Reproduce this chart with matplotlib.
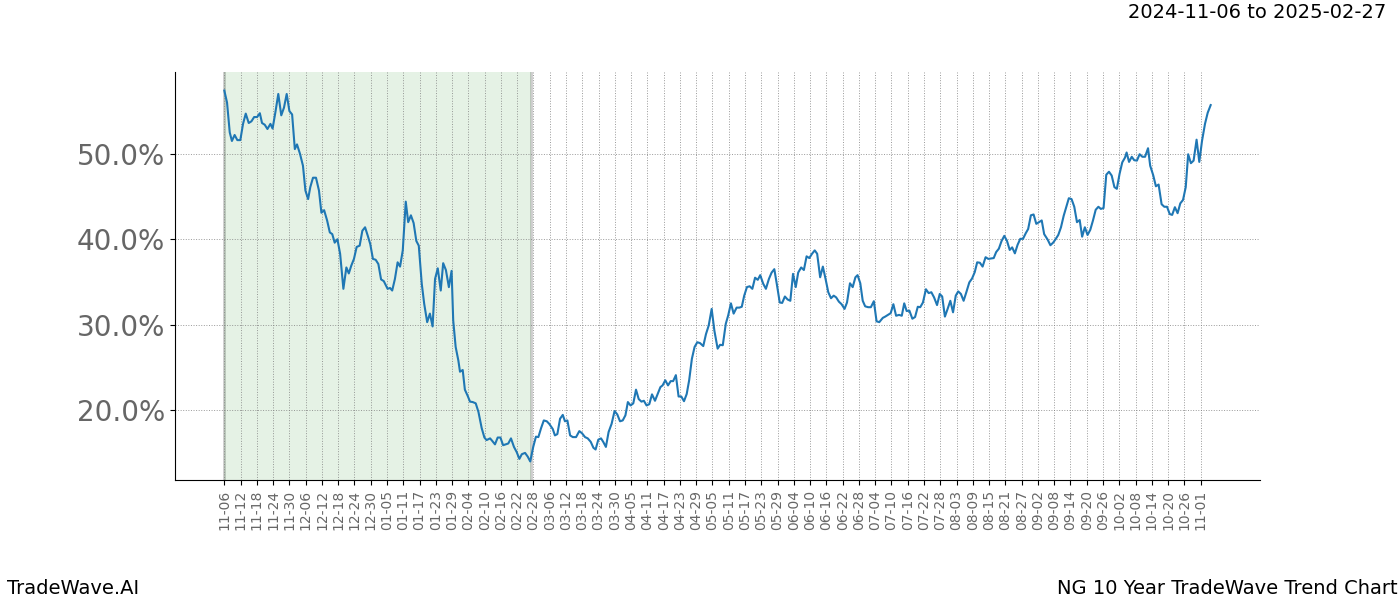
import matplotlib
matplotlib.use("Agg")
import matplotlib.pyplot as plt
import matplotlib.dates as mdates
import pandas as pd
import numpy as np

start_date = "2024-11-06"
shade_start = "2024-11-06"
shade_end = "2025-02-27"
title_text = "2024-11-06 to 2025-02-27"
left_footer = "TradeWave.AI"
right_footer = "NG 10 Year TradeWave Trend Chart"

# days since start_date
day_offset = [
    0.0, 1.0, 2.0, 2.8, 3.8, 4.8, 5.9, 6.9, 7.9, 9.0, 10.0, 11.0, 12.1, 13.1, 13.9, 14.9,
    15.9, 17.0, 17.8, 18.8, 19.9, 21.0, 22.0, 23.0, 24.0, 25.0, 26.0, 26.8, 27.9, 29.0, 29.9,
    30.9, 31.7, 32.7, 33.8, 34.9, 35.8, 36.8, 37.9, 38.9, 39.8, 40.7, 41.7, 42.7, 43.9, 45.0,
    45.9, 46.8, 47.8, 48.8, 49.9, 50.9, 51.9, 52.9, 53.8, 54.8, 55.8, 56.8, 57.8, 58.8,
    60.2, 61.1, 61.9, 62.9, 63.9, 64.8, 65.8, 66.9, 67.8, 68.8, 69.8, 70.8, 71.7, 72.8, 73.7,
    74.8, 75.8, 76.8, 77.7, 78.7, 79.8, 80.7, 81.7, 82.8, 83.8, 84.4, 85.3, 86.3, 86.9, 87.9,
    88.7, 89.7, 90.6, 91.6, 92.7, 93.7, 94.9, 95.9, 96.7, 98.0, 98.8, 99.8, 100.8, 101.8,
    102.8, 103.8, 104.7, 105.7, 106.8, 107.8, 108.8, 109.7, 110.9, 111.9, 112.8, 113.9, 114.9,
    115.8, 116.8, 117.8, 118.9, 119.8,
    121.1, 121.9, 122.8, 123.8, 124.8, 125.6, 126.5, 127.5, 128.5, 129.7, 130.9, 131.9, 133.0,
    134.0, 135.1, 136.1, 136.9, 137.9, 138.9, 139.7, 140.7, 141.7, 142.8, 143.9, 144.9, 145.9,
    146.9, 147.9, 148.8, 149.8, 150.8, 151.8, 152.8, 153.8, 154.7, 155.7, 156.7, 157.7, 158.8,
    159.8, 160.8, 161.6, 162.6, 163.6, 164.6, 165.5, 166.5, 167.5, 168.5, 169.5, 170.5, 171.4,
    172.4, 173.4, 174.4, 175.4, 176.6, 177.6, 178.6, 179.7, 180.7, 181.9, 182.8,
    183.8, 184.9, 185.8, 186.8, 187.8, 188.9, 189.9, 190.8, 191.7, 192.7, 193.7, 194.7, 195.7,
    196.7, 197.6, 198.7, 199.7, 200.8, 201.8, 202.8, 203.8, 204.8, 205.7, 206.7, 207.7, 208.7,
    209.7, 210.7, 211.6, 212.7, 213.7, 214.7, 215.7, 216.7, 217.7, 218.6, 219.7, 220.7, 221.7,
    222.7, 223.7, 224.7, 225.6, 226.6, 227.6, 228.7, 229.6, 230.7, 231.7, 232.7, 233.5, 234.5,
    235.4, 236.3, 237.4, 238.4, 239.5, 240.5, 241.5,
    242.8, 243.7, 244.7, 245.7, 246.7, 247.7, 248.8, 249.8, 250.7, 251.6, 252.6, 253.7, 254.7,
    255.7, 256.6, 257.6, 258.7, 259.7, 260.7, 261.7, 262.8, 263.8, 264.7, 265.7, 266.7, 267.7,
    268.7, 269.7, 270.6, 271.6, 272.6, 273.6, 274.7, 275.7, 276.7, 277.6, 278.6, 279.6, 280.7,
    281.7, 282.7, 283.7, 284.6, 285.6, 286.6, 287.6, 288.6, 289.6, 290.5, 291.5, 292.5, 293.5,
    294.5, 295.5, 296.4, 297.4, 298.4, 299.4, 300.4, 301.4, 302.3,
    303.6, 304.6, 305.6, 306.5, 307.5, 308.5, 309.5, 310.4, 311.4, 312.4, 313.4, 314.4, 315.4,
    316.3, 317.3, 318.3, 319.3, 320.3, 321.3, 322.3, 323.2, 324.2, 325.2, 326.2, 327.2, 328.2,
    329.1, 330.1, 331.1, 332.1, 332.7, 333.6, 334.6, 335.5, 336.5, 337.5, 338.5, 339.5, 340.6,
    341.4, 342.5, 343.5, 344.5, 345.6, 346.6, 347.6, 348.6, 349.5, 350.5, 351.5, 352.5, 353.5,
    354.5, 355.4, 356.4, 357.4, 358.5, 359.5, 360.5, 361.6, 362.6, 363.7,
]

trend_pct = [
    57.4, 56.0, 52.5, 51.5, 52.2, 51.6, 51.6, 53.5, 54.7, 53.6, 53.8, 54.3, 54.3, 54.75, 53.6, 53.4,
    52.9, 53.5, 52.95, 54.8, 57.0, 54.5, 55.4, 57.0, 55.0, 54.6, 50.55, 51.1, 50.0, 48.6, 45.7,
    44.7, 46.1, 47.2, 47.2, 45.7, 43.1, 43.4, 42.2, 40.8, 40.6, 39.6, 40.0, 38.3, 34.2, 36.7,
    36.0, 36.9, 37.7, 39.1, 39.25, 41.0, 41.4, 40.4, 39.45, 37.7, 37.6, 37.1, 35.3, 35.1,
    34.2, 34.3, 34.0, 35.35, 37.3, 36.8, 38.7, 44.4, 42.0, 42.8, 41.9, 39.8, 39.25, 34.8, 32.45,
    30.3, 31.3, 29.8, 35.35, 36.6, 34.0, 37.2, 36.4, 34.4, 36.3, 30.5, 27.4, 25.8, 24.5, 24.7,
    22.4, 21.7, 21.0, 20.95, 20.8, 19.8, 17.9, 16.8, 16.5, 16.7, 16.4, 16.0, 16.8, 16.8,
    15.9, 16.0, 16.1, 16.7, 15.7, 15.1, 14.3, 14.85, 15.0, 14.55, 14.0, 15.7, 16.9,
    16.85, 17.9, 18.8, 18.7, 18.4,
    17.8, 17.05, 17.2, 19.0, 19.45, 18.7, 18.8, 17.05, 16.85, 16.85, 17.55, 17.3, 16.85,
    16.7, 16.3, 15.6, 15.4, 16.55, 16.7, 16.3, 15.7, 17.45, 18.4, 19.9, 19.5, 18.7,
    18.8, 19.4, 20.95, 20.55, 20.8, 22.4, 21.3, 21.0, 21.1, 20.55, 20.7, 21.85, 21.1,
    21.9, 22.7, 22.9, 23.5, 22.9, 23.4, 23.4, 24.1, 21.6, 21.6, 21.05, 21.9, 23.5,
    26.0, 27.4, 27.95, 27.85, 27.5, 28.9, 29.9, 31.85, 29.3, 27.2, 27.65,
    27.6, 30.1, 31.1, 32.5, 31.3, 32.0, 32.0, 32.1, 33.4, 34.4, 34.5, 34.2, 35.5,
    35.25, 35.8, 34.8, 34.2, 35.35, 36.1, 36.5, 34.6, 32.6, 32.55, 33.3, 32.95, 32.8,
    35.95, 34.4, 36.1, 36.7, 36.4, 38.0, 37.8, 38.3, 38.7, 38.3, 35.55, 36.8, 35.35,
    33.8, 33.1, 33.4, 33.2, 32.7, 32.4, 31.85, 32.6, 34.85, 34.4, 35.55, 35.8, 34.85,
    32.8, 32.15, 32.05, 32.05, 32.75, 30.4, 30.3,
    30.8, 30.95, 31.15, 31.35, 32.4, 31.05, 31.15, 31.05, 32.5, 31.6, 31.65, 30.7, 30.9,
    32.1, 32.05, 32.6, 34.15, 33.7, 33.8, 33.2, 32.3, 33.6, 33.3, 30.95, 31.85, 32.8,
    31.45, 33.4, 33.9, 33.6, 32.8, 33.8, 34.95, 35.4, 36.15, 37.3, 37.25, 36.8, 37.9,
    37.7, 37.75, 37.8, 38.5, 38.9, 39.8, 40.4, 39.8, 38.75, 39.05, 38.35, 39.35, 40.05,
    40.05, 40.7, 41.2, 42.8, 42.9, 41.8, 42.0, 42.2, 40.6,
    39.95, 39.3, 39.6, 40.0, 40.5, 41.4, 42.75, 43.7, 44.8, 44.7, 43.8, 42.0, 42.25,
    40.3, 41.4, 40.5, 41.1, 42.2, 43.45, 43.8, 43.55, 43.65, 47.55, 47.9, 47.45, 46.1,
    45.9, 47.65, 49.0, 49.55, 50.15, 49.05, 49.65, 49.25, 49.2, 49.95, 49.65, 49.65, 50.65,
    48.6, 47.5, 46.2, 46.4, 44.1, 43.8, 43.8, 42.95, 42.85, 43.75, 43.05, 44.2, 44.6,
    46.1, 49.95, 48.9, 49.2, 51.65, 49.05, 51.5, 53.5, 54.8, 55.7,
]

y_ticks = [20, 30, 40, 50]
tick_first = "2024-11-06"
tick_last = "2025-11-01"
tick_step_days = 6

dates = pd.Timestamp(start_date) + pd.to_timedelta(np.array(day_offset), unit="D")

fig = plt.figure(figsize=(14, 6), dpi=100)
ax = fig.add_axes([0.125, 0.2, 0.775, 0.68])

ax.axvspan(pd.Timestamp(shade_start), pd.Timestamp(shade_end), color="green", alpha=0.1, lw=0)
ax.axvline(pd.Timestamp(shade_start), color="#cccccc", lw=2, zorder=0.5)
ax.axvline(pd.Timestamp(shade_end), color="#cccccc", lw=2, zorder=0.5)

ax.plot(dates, trend_pct, color="#1f77b4", lw=1.5)

ticks = pd.date_range(tick_first, tick_last, freq=f"{tick_step_days}D")
ax.set_xticks(ticks)
ax.xaxis.set_major_formatter(mdates.DateFormatter("%m-%d"))
plt.setp(ax.get_xticklabels(), rotation=90, fontsize=10, color="#666666")

ax.set_yticks(y_ticks)
ax.set_yticklabels([f"{v:.1f}%" for v in y_ticks], fontsize=20, color="#666666")

ax.grid(True, which="major", linestyle=":", color="gray", linewidth=0.7, alpha=0.8)
ax.spines["top"].set_visible(False)
ax.spines["right"].set_visible(False)

fig.text(0.99, 0.98, title_text, ha="right", va="center", fontsize=14)
fig.text(0.005, 0.02, left_footer, ha="left", va="center", fontsize=14)
fig.text(0.998, 0.02, right_footer, ha="right", va="center", fontsize=14)

fig.savefig("out.png", dpi=100)
